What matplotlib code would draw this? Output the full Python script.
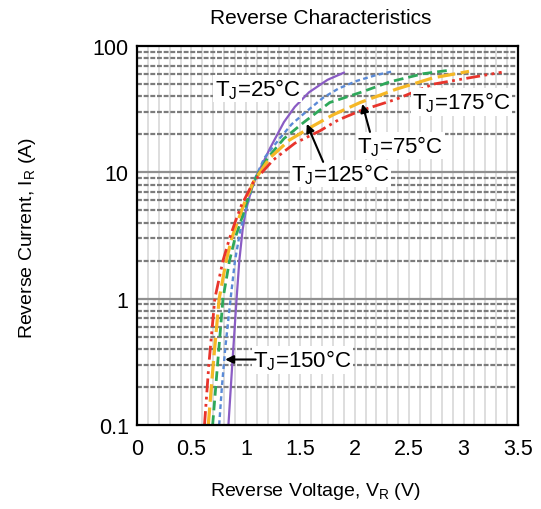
import matplotlib
matplotlib.use("Agg")
import matplotlib.pyplot as plt
import numpy as np

plt.rcParams['font.family'] = ['Liberation Sans', 'DejaVu Sans']
plt.rcParams['mathtext.fontset'] = 'custom'
plt.rcParams['mathtext.rm'] = 'Liberation Sans'
plt.rcParams['mathtext.it'] = 'Liberation Sans:italic'
plt.rcParams['mathtext.default'] = 'regular'

# ---- data ----
v_25 = [0.84, 0.875, 0.915, 0.94, 0.97, 1.0, 1.05, 1.10, 1.16, 1.22, 1.29, 1.35, 1.45, 1.58, 1.75, 1.90]
i_25 = [0.1, 0.3, 1.0, 2.0, 3.5, 5.0, 7.2, 9.5, 12, 15.4, 20, 25, 33, 43, 54, 61.5]

v_150 = [0.755, 0.78, 0.81, 0.86, 0.90, 0.95, 1.0, 1.07, 1.17, 1.31, 1.42, 1.53, 1.71, 1.85, 2.02, 2.2, 2.35]
i_150 = [0.1, 0.2, 0.4, 1.0, 2.0, 3.5, 5.0, 8.4, 13, 18.5, 24, 29, 39, 46, 53, 59, 63]

v_125 = [0.695, 0.74, 0.79, 0.85, 0.90, 0.95, 1.0, 1.07, 1.20, 1.35, 1.53, 1.77, 2.05, 2.32, 2.63, 2.85]
i_125 = [0.1, 0.3, 1.0, 2.0, 3.0, 4.0, 5.5, 8.4, 13, 18.5, 24.8, 35.7, 42.8, 52, 60.4, 64]

v_75 = [0.655, 0.70, 0.755, 0.82, 0.87, 0.92, 0.99, 1.07, 1.22, 1.40, 1.59, 1.80, 2.05, 2.38, 2.72, 3.05]
i_75 = [0.1, 0.3, 1.0, 2.0, 3.0, 4.0, 5.8, 8.4, 13, 18, 22.6, 28.5, 35.7, 45.5, 56, 63]

v_175 = [0.62, 0.66, 0.715, 0.79, 0.85, 0.90, 0.96, 1.07, 1.25, 1.45, 1.68, 1.85, 2.05, 2.38, 2.72, 3.0, 3.35]
i_175 = [0.1, 0.3, 1.0, 2.0, 3.0, 4.0, 5.5, 8.4, 12.5, 17, 21.3, 26, 30.7, 37.9, 49.9, 55, 62]

x_ticks = [0, 0.5, 1, 1.5, 2, 2.5, 3, 3.5]
x_tick_labels = ['0', '0.5', '1', '1.5', '2', '2.5', '3', '3.5']
y_ticks = [0.1, 1, 10, 100]
y_tick_labels = ['0.1', '1', '10', '100']

fig = plt.figure(figsize=(5.41, 5.10), dpi=100)
ax = fig.add_axes([0.2532, 0.1647, 0.7043, 0.7431])
ax.set_yscale('log')
ax.set_xlim(0, 3.5)
ax.set_ylim(0.1, 100)

# grid
for xv in np.arange(0.1, 3.5, 0.1):
    ax.axvline(xv, color='#dedede', lw=1.4, zorder=0)
for dec in [0.1, 1, 10]:
    for k in range(2, 10):
        ax.axhline(dec * k, color='#7c7c7c', lw=1.6, ls=(0, (2.2, 0.8)), zorder=0.5)
for yv in [1, 10]:
    ax.axhline(yv, color='#909090', lw=1.6, zorder=0.5)

# curves
ax.plot(v_25, i_25, color='#8a5cc4', lw=1.6, zorder=3)
ax.plot(v_150, i_150, color='#5a8ad6', lw=1.7, ls=(0, (2.0, 1.4)), zorder=3)
ax.plot(v_125, i_125, color='#2ea85a', lw=2.0, ls=(0, (3.5, 1.8)), zorder=3)
ax.plot(v_75, i_75, color='#f6b826', lw=2.3, ls=(0, (5.5, 1.8)), zorder=3)
ax.plot(v_175, i_175, color='#e8342c', lw=2.0, ls=(0, (5, 1.6, 1, 1.6, 1, 1.6)), zorder=3)

# labels
bb = dict(facecolor='white', edgecolor='none', pad=1.0)
fs = 16
ax.text(1.11, 46, 'T$_J$=25°C', fontsize=fs, ha='center', va='center', bbox=bb, zorder=4)
ax.text(2.98, 36.1, 'T$_J$=175°C', fontsize=fs, ha='center', va='center', bbox=bb, zorder=4)
ax.text(2.42, 16.3, 'T$_J$=75°C', fontsize=fs, ha='center', va='center', bbox=bb, zorder=4)
ax.text(1.87, 9.8, 'T$_J$=125°C', fontsize=fs, ha='center', va='center', bbox=bb, zorder=4)
ax.text(1.52, 0.327, 'T$_J$=150°C', fontsize=fs, ha='center', va='center', bbox=bb, zorder=4)

ap = dict(arrowstyle='-|>', color='black', lw=1.5, mutation_scale=12, shrinkA=0, shrinkB=0)
ax.annotate('', xy=(2.07, 34.8), xytext=(2.14, 20.9), arrowprops=ap, zorder=5)
ax.annotate('', xy=(1.56, 24.2), xytext=(1.71, 12.1), arrowprops=ap, zorder=5)
ax.annotate('', xy=(0.81, 0.33), xytext=(1.09, 0.33), arrowprops=ap, zorder=5)

ax.set_xticks(x_ticks)
ax.set_xticklabels(x_tick_labels)
ax.set_yticks(y_ticks)
ax.set_yticklabels(y_tick_labels)
ax.minorticks_off()
ax.tick_params(length=0, labelsize=15.5)
ax.tick_params(axis='x', pad=9)
ax.tick_params(axis='y', pad=6)
for s in ax.spines.values():
    s.set_linewidth(1.6)
    s.set_color('black')
    s.set_zorder(6)

fig.text(321 / 541, 1 - 18 / 510, 'Reverse Characteristics', fontsize=15, ha='center', va='center')
ax.set_xlabel('Reverse Voltage, V$_R$ (V)', fontsize=14)
ax.set_ylabel('Reverse Current, I$_R$ (A)', fontsize=14)
ax.xaxis.label.set_va('center')
ax.yaxis.label.set_va('center')
ax.xaxis.set_label_coords((315 - 137) / 381, (426 - 492) / 380)
ax.yaxis.set_label_coords((28 - 137) / 381, (426 - 237) / 380)

fig.savefig('out.png', dpi=100)
